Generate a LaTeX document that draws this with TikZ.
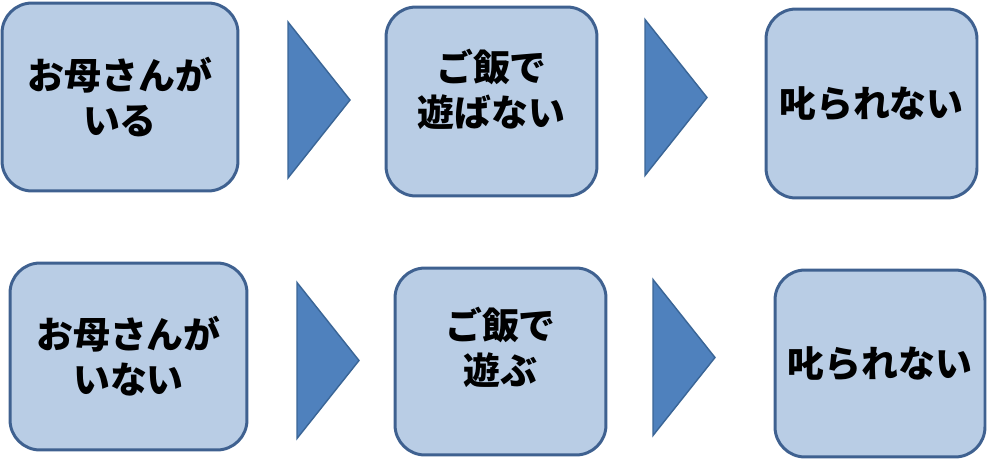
\documentclass[tikz,border=0pt]{standalone}
\usepackage{fontspec}
\newfontfamily\jpfont{Noto Sans CJK JP}
\definecolor{boxfill}{HTML}{B9CDE5}
\definecolor{boxline}{HTML}{3F6190}
\definecolor{arrowfill}{HTML}{4F81BD}
\definecolor{arrowline}{HTML}{3A6596}
\tikzset{
  stepbox/.style={draw=boxline, fill=boxfill, line width=1.7pt, rounded corners=0.6cm,
    align=center, inner sep=0pt, font=\jpfont\bfseries\fontsize{21}{25.5}\selectfont},
  chevron/.style={draw=arrowline, fill=arrowfill, line width=0.8pt, line join=miter}
}
\begin{document}
\begin{tikzpicture}[x=0.02cm, y=-0.02cm]
\useasboundingbox (0,0) rectangle (1000,460);
% top row
\node[stepbox, minimum width=4.72cm, minimum height=3.76cm] (momin) at (120,97) {お母さんが\\いる};
\node[stepbox, minimum width=4.22cm, minimum height=3.78cm, text depth=0.55cm] (noplay) at (491.5,101.5) {ご飯で\\遊ばない};
\node[stepbox, minimum width=4.22cm, minimum height=3.78cm] (safeA) at (871.5,103.5) {叱られない};
% bottom row
\node[stepbox, minimum width=4.74cm, minimum height=3.74cm] (momout) at (128.5,356.5) {お母さんが\\いない};
\node[stepbox, minimum width=4.22cm, minimum height=3.74cm, text depth=0.62cm] (play) at (500.5,361.5) {ご飯で\\遊ぶ};
\node[stepbox, minimum width=4.20cm, minimum height=3.74cm] (safeB) at (880,363.5) {叱られない};
% chevrons
\foreach \x/\y in {288/100, 645/97.5, 297/360.5, 653/357.5}{
  \draw[chevron] (\x,\y-78) -- (\x+62,\y) -- (\x,\y+78) -- cycle;
}
\end{tikzpicture}
\end{document}
